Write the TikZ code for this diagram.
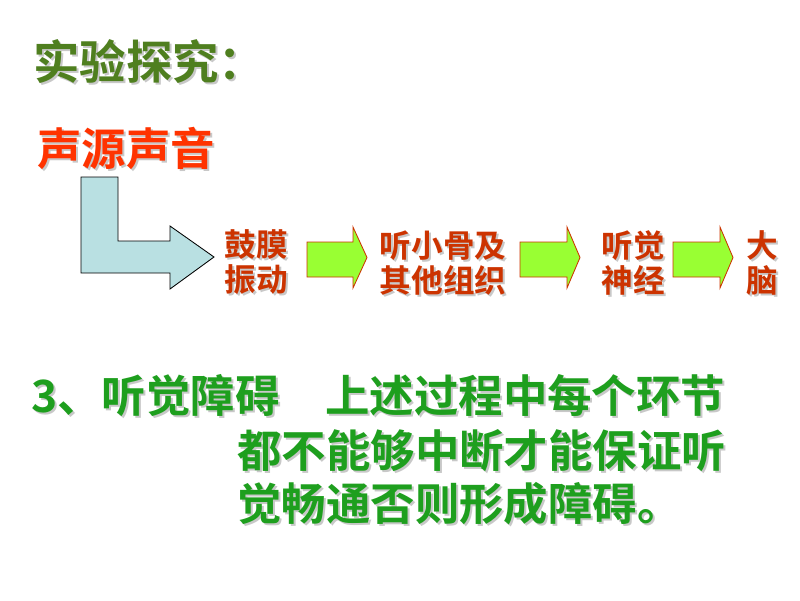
\documentclass[tikz,border=0pt]{standalone}
\usepackage{fontspec}
\newfontfamily\cjk{Noto Sans CJK SC}[BoldFont={Noto Sans CJK SC Bold}]
\usetikzlibrary{calc}

\definecolor{titlegreen}{HTML}{4F7F1F}
\definecolor{sourcered}{HTML}{FF3300}
\definecolor{stepred}{HTML}{CC3300}
\definecolor{textgreen}{HTML}{1E9F1E}
\definecolor{earblue}{HTML}{B9E0E2}
\definecolor{arrowlime}{HTML}{99FF33}
\definecolor{shadowgray}{HTML}{C8C8C8}

\tikzset{
  bigtext/.style={inner sep=0pt, font=\cjk\bfseries\fontsize{31.6}{36}\selectfont},
  steptext/.style={inner sep=0pt, align=center, text=stepred,
    font=\cjk\bfseries\fontsize{22.5}{25}\selectfont},
  blockarrow/.style={fill=arrowlime, draw=stepred, line width=0.6pt}
}

% text with a grey shadow behind it
\newcommand{\shadowlabel}[4]{%
  \node[#1, text=shadowgray] at ($(#3)+(2,2)$) {#4};
  \node[#1] (#2) at (#3) {#4};}

\begin{document}
\begin{tikzpicture}[x=0.025cm, y=-0.025cm]
  \useasboundingbox[fill=white] (0,0) rectangle (800,600);

  \shadowlabel{bigtext, anchor=west, text=titlegreen, font=\cjk\bfseries\fontsize{33}{36}\selectfont}{title}{33,62}{实验探究：}
  \shadowlabel{bigtext, anchor=west, text=sourcered}{source}{37,148}{声源声音}

  % bent arrow from the source
  \draw[fill=earblue, draw=black, line width=0.6pt]
    (81,177) -- (118,177) -- (118,241) -- (170,241) -- (170,226) -- (214,257)
    -- (170,289) -- (170,273) -- (81,273) -- cycle;

  \shadowlabel{steptext}{drum}{256,262}{鼓膜\\振动}
  \shadowlabel{steptext}{bones}{443,263}{听小骨及\\其他组织}
  \shadowlabel{steptext}{nerve}{633,263}{听觉\\神经}
  \shadowlabel{steptext}{brain}{762,263}{大\\脑}

  \foreach \a/\b/\c in {307/353/367, 520/567/580, 673/720/733}
    \draw[blockarrow] (\a,242) -- (\b,242) -- (\b,227) -- (\c,257.5)
      -- (\b,288) -- (\b,277) -- (\a,277) -- cycle;

  \shadowlabel{bigtext, anchor=west, text=textgreen}{hearing}{31,396}{3、听觉障碍}
  \shadowlabel{bigtext, anchor=west, text=textgreen}{lineone}{325,396}{上述过程中每个环节}
  \shadowlabel{bigtext, anchor=west, text=textgreen}{linetwo}{237,451}{都不能够中断才能保证听}
  \shadowlabel{bigtext, anchor=west, text=textgreen}{linethree}{237,504}{觉畅通否则形成障碍。}
\end{tikzpicture}
\end{document}
